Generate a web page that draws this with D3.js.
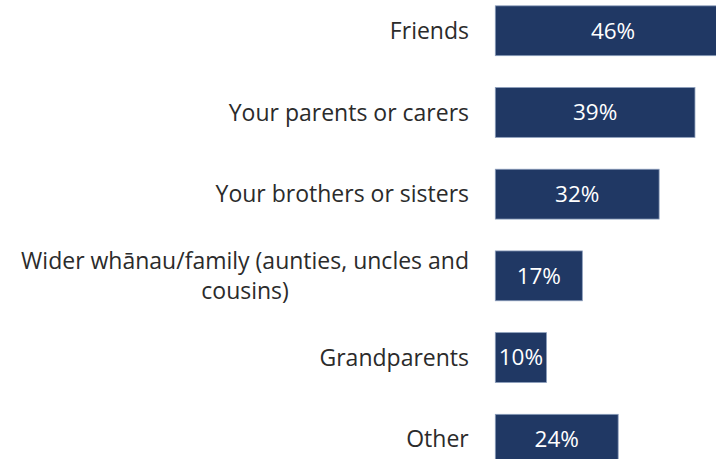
<!DOCTYPE html>
<html>
<head>
<meta charset="utf-8">
<script src="https://cdn.jsdelivr.net/npm/d3@7"></script>
<style>
  html, body { margin: 0; padding: 0; background: #ffffff; overflow: hidden; }
  text { font-family: "Open Sans", Lato, sans-serif; }
</style>
</head>
<body>
<div id="chart"></div>
<script>

const width = 716, height = 459;

// DATA
const categories = [
	["Friends"],
	["Your parents or carers"],
	["Your brothers or sisters"],
	["Wider whānau/family (aunties, uncles and", "cousins)"],
	["Grandparents"],
	["Other"]
];
const values = [46, 39, 32, 17, 10, 24];

let svg = d3.select("#chart")
	.append("svg")
	.attr("width", width)
	.attr("height", height);

// bars start at ~495px, friends bar runs off the right edge
let x = d3.scaleLinear()
	.domain([0, 46])
	.range([495.3, 730.8]);

let y = d3.scaleBand()
	.domain(d3.range(categories.length))
	.range([-10.5, 480.5])
	.paddingInner(0.39)
	.paddingOuter(0.2);

let bars = svg.append("g");
let labels = svg.append("g");
let cats = svg.append("g");

bars.selectAll("rect")
	.data(values)
	.enter()
	.append("rect")
	.attr("x", x(0))
	.attr("y", (d, i) => y(i))
	.attr("width", d => x(d) - x(0))
	.attr("height", y.bandwidth())
	.style("fill", "#203864")
	.style("stroke", "#8b9dbb")
	.style("stroke-width", 0.8);

labels.selectAll("text")
	.data(values)
	.enter()
	.append("text")
	.attr("x", d => (x(0) + x(d)) / 2)
	.attr("y", (d, i) => y(i) + y.bandwidth() / 2)
	.attr("dy", "0.35em")
	.attr("text-anchor", "middle")
	.style("font-size", "22.5px")
	.style("fill", "#ffffff")
	.text(d => d + "%");

// category names, right aligned; the long one wraps onto 2 centred lines
categories.forEach(function (lines, i) {
	let cy = y(i) + y.bandwidth() / 2;
	let lh = 30;
	let g = cats.append("g");
	let t = g.append("text")
		.attr("text-anchor", "middle")
		.style("font-size", "23px")
		.style("fill", "#2b2b2b");
	lines.forEach(function (line, j) {
		t.append("tspan")
			.attr("x", 0)
			.attr("y", cy + (j - (lines.length - 1) / 2) * lh)
			.attr("dy", "0.35em")
			.text(line);
	});
	// shift so the widest line ends at x = 469
	let w = t.node().getBBox().width;
	t.attr("transform", "translate(" + (469 - w / 2) + ",0)");
});

</script>
</body>
</html>
